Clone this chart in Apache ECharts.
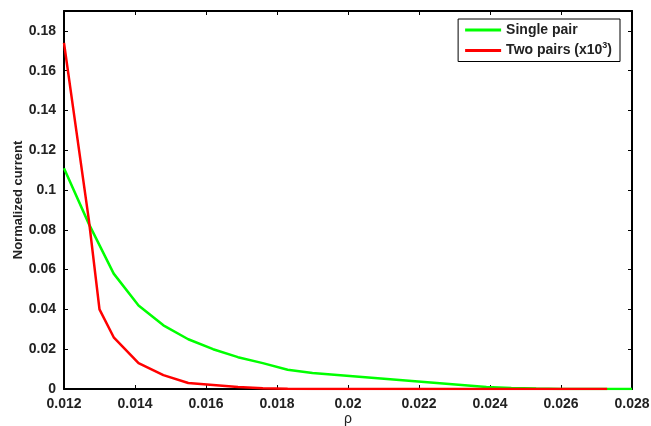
<!DOCTYPE html>
<html>
  <head>
    <meta charset="utf-8">
    <title>Normalized current vs rho</title>
    <script src="https://cdn.jsdelivr.net/npm/echarts@6/dist/echarts.min.js"></script>
    <style>
      body { margin: 0; background: #fff; }
      #chart { width: 651px; height: 426px; }
    </style>
  </head>
  <body>
    <div id="chart"></div>
    <script>
        // values
        var rho = [0.012, 0.0127, 0.013, 0.0134, 0.0141, 0.0148, 0.0155, 0.0162, 0.0169, 0.0176, 0.0183, 0.019,
                   0.0197, 0.0204, 0.0211, 0.0218, 0.0225, 0.0232, 0.0239, 0.0246, 0.0253, 0.026, 0.0267, 0.0273, 0.028];
        var singlePair = [0.111, 0.083, null, 0.058, 0.042, 0.032, 0.025, 0.020, 0.016, 0.013, 0.0097, 0.008,
                          0.007, 0.006, 0.005, 0.004, 0.003, 0.002, 0.001, 0.0005, 0.0002, 0, 0, 0, 0];
        var twoPairs = [0.174, 0.085, 0.040, 0.026, 0.013, 0.007, 0.003, 0.002, 0.001, 0.0004, 0.0001, 0,
                        0, 0, 0, 0, 0, 0, 0, 0, 0, 0, 0, 0, null];
        var yTicks = [0, 0.02, 0.04, 0.06, 0.08, 0.1, 0.12, 0.14, 0.16, 0.18];

        function pairs(xs, ys) {
            var out = [];
            for (var i = 0; i < xs.length; i++) {
                if (ys[i] !== null) out.push([xs[i], ys[i]]);
            }
            return out;
        }

        var font = '"Liberation Sans", Arial, sans-serif';
        var chart = echarts.init(document.getElementById('chart'), null, {renderer: 'canvas'});

        var axisCommon = {
            axisLine: {show: true, onZero: false, lineStyle: {color: '#000', width: 2}},
            axisTick: {show: true, inside: true, length: 4, lineStyle: {color: '#000', width: 1}},
            splitLine: {show: false}
        };

        chart.setOption({
            animation: false,
            backgroundColor: '#fff',
            grid: {left: 64, right: 19, top: 11, bottom: 37, containLabel: false, outerBoundsMode: 'none'},
            legend: {
                right: 31, top: 19,
                orient: 'vertical',
                itemWidth: 36, itemHeight: 3, itemGap: 4,
                padding: [4, 8, 4, 7],
                borderColor: '#000', borderWidth: 1,
                backgroundColor: '#fff',
                icon: 'rect',
                data: ['Single pair', 'Two pairs'],
                formatter: function (name) {
                    if (name === 'Two pairs') return '{a|Two pairs (x10}{s|3}{a|)}';
                    return '{a|' + name + '}';
                },
                textStyle: {
                    rich: {
                        a: {fontFamily: font, fontWeight: 'bold', fontSize: 14, color: '#222', height: 18},
                        s: {fontFamily: font, fontWeight: 'bold', fontSize: 9, color: '#222', verticalAlign: 'top', height: 18, padding: [0, 0, 10, 0]}
                    }
                }
            },
            xAxis: [
                Object.assign({
                    type: 'value', min: 0.012, max: 0.028, interval: 0.002,
                    name: 'ρ', nameLocation: 'middle', nameGap: 23, nameMoveOverlap: false,
                    nameTextStyle: {fontFamily: font, fontSize: 14, color: '#222'},
                    axisLabel: {fontFamily: font, fontWeight: 'bold', fontSize: 14, color: '#222', margin: 8}
                }, axisCommon),
                Object.assign({
                    type: 'value', min: 0.012, max: 0.028, interval: 0.002, position: 'top',
                    axisLabel: {show: false}
                }, axisCommon)
            ],
            yAxis: [
                Object.assign({
                    type: 'value', min: 0, max: 0.19, interval: 0.02,
                    name: 'Normalized current', nameLocation: 'middle', nameGap: 39, nameMoveOverlap: false,
                    nameTextStyle: {fontFamily: font, fontWeight: 'bold', fontSize: 13, color: '#222'},
                    axisLabel: {
                        fontFamily: font, fontWeight: 'bold', fontSize: 14, color: '#222', margin: 8,
                        showMaxLabel: false,
                        formatter: function (v) {
                            return yTicks.indexOf(+v.toFixed(2)) >= 0 ? String(+v.toFixed(2)) : '';
                        }
                    }
                }, axisCommon),
                Object.assign({
                    type: 'value', min: 0, max: 0.19, interval: 0.02, position: 'right',
                    axisLabel: {show: false}
                }, axisCommon)
            ],
            series: [
                {
                    name: 'Single pair', type: 'line', showSymbol: false, symbol: 'none',
                    data: pairs(rho, singlePair),
                    lineStyle: {color: '#00ff00', width: 2.5},
                    itemStyle: {color: '#00ff00'}
                },
                {
                    name: 'Two pairs', type: 'line', showSymbol: false, symbol: 'none',
                    data: pairs(rho, twoPairs),
                    lineStyle: {color: '#ff0000', width: 2.5},
                    itemStyle: {color: '#ff0000'}
                }
            ]
        });
    </script>
  </body>
</html>
